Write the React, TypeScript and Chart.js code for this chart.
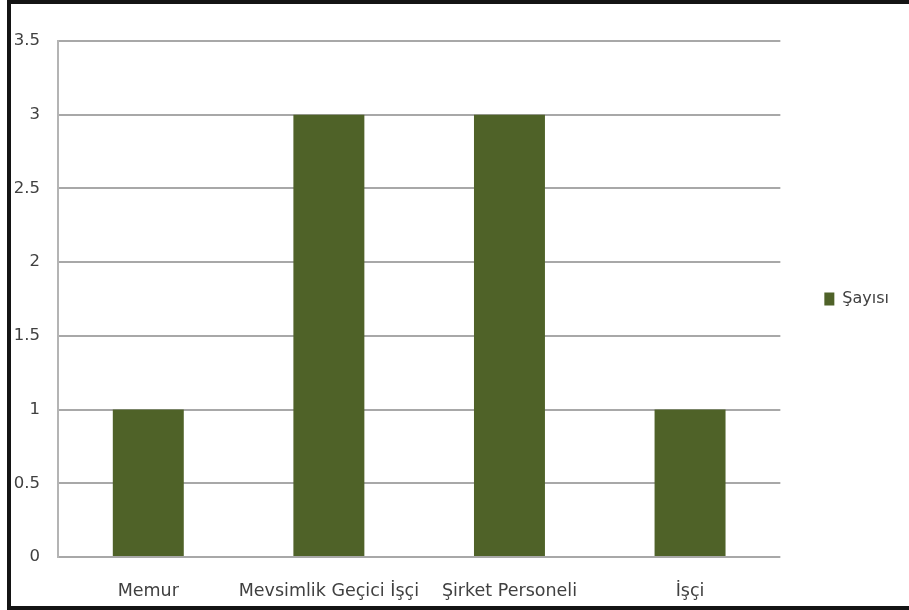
import React, { useEffect, useRef } from "react";
import { Chart, registerables } from "chart.js";

Chart.register(...registerables);

const categories = ["Memur", "Mevsimlik Geçici İşçi", "Şirket Personeli", "İşçi"];
const seriesName = "Şayısı";
const seriesValues = [1, 3, 3, 1];
const yTicks = [0, 0.5, 1, 1.5, 2, 2.5, 3, 3.5];

export default function App() {
  const ref = useRef<HTMLCanvasElement | null>(null);

  useEffect(() => {
    if (!ref.current) return;
    const family = "'DejaVu Sans', sans-serif";
    const chart = new Chart(ref.current, {
      type: "bar",
      data: {
        labels: categories,
        datasets: [
          {
            label: seriesName,
            data: seriesValues,
            backgroundColor: "#4f6228",
            borderWidth: 0,
            barPercentage: 1,
            categoryPercentage: 0.393,
          },
        ],
      },
      options: {
        responsive: false,
        animation: false,
        layout: { padding: { top: 41, left: 0, right: 10, bottom: 0 } },
        plugins: {
          tooltip: { enabled: false },
          legend: {
            display: true,
            position: "right",
            fullSize: false,
            labels: {
              padding: 44,
              boxWidth: 10,
              boxHeight: 13,
              color: "#404040",
              font: { family, size: 16 },
            },
          },
        },
        scales: {
          x: {
            grid: { display: false },
            border: { display: false },
            ticks: {
              color: "#404040",
              font: { family, size: 17.5 },
              padding: 16,
              maxRotation: 0,
              autoSkip: false,
            },
            afterFit: (s: any) => {
              s.height = 53;
            },
          },
          y: {
            min: 0,
            max: 3.5,
            afterBuildTicks: (s: any) => {
              s.ticks = yTicks.map((v) => ({ value: v }));
            },
            grid: { color: "#a8a8a8", lineWidth: 2, drawTicks: false },
            border: { display: true, color: "#b4b4b4", width: 2 },
            ticks: {
              color: "#404040",
              font: { family, size: 16.5 },
              padding: 18,
              callback: (v: any) => String(v),
            },
            afterFit: (s: any) => {
              s.width = 58;
            },
          },
        },
      },
    });
    return () => chart.destroy();
  }, []);

  return (
    <div
      style={{
        position: "fixed",
        left: 0,
        top: 0,
        width: 909,
        height: 610,
        overflow: "hidden",
        background: "#fff",
      }}
    >
      <canvas ref={ref} width={909} height={610} style={{ position: "absolute", left: 0, top: 0 }} />
      <div
        style={{
          position: "absolute",
          left: 7,
          top: 0,
          width: 940,
          height: 610,
          border: "4px solid #141414",
          boxSizing: "border-box",
          pointerEvents: "none",
        }}
      />
    </div>
  );
}
